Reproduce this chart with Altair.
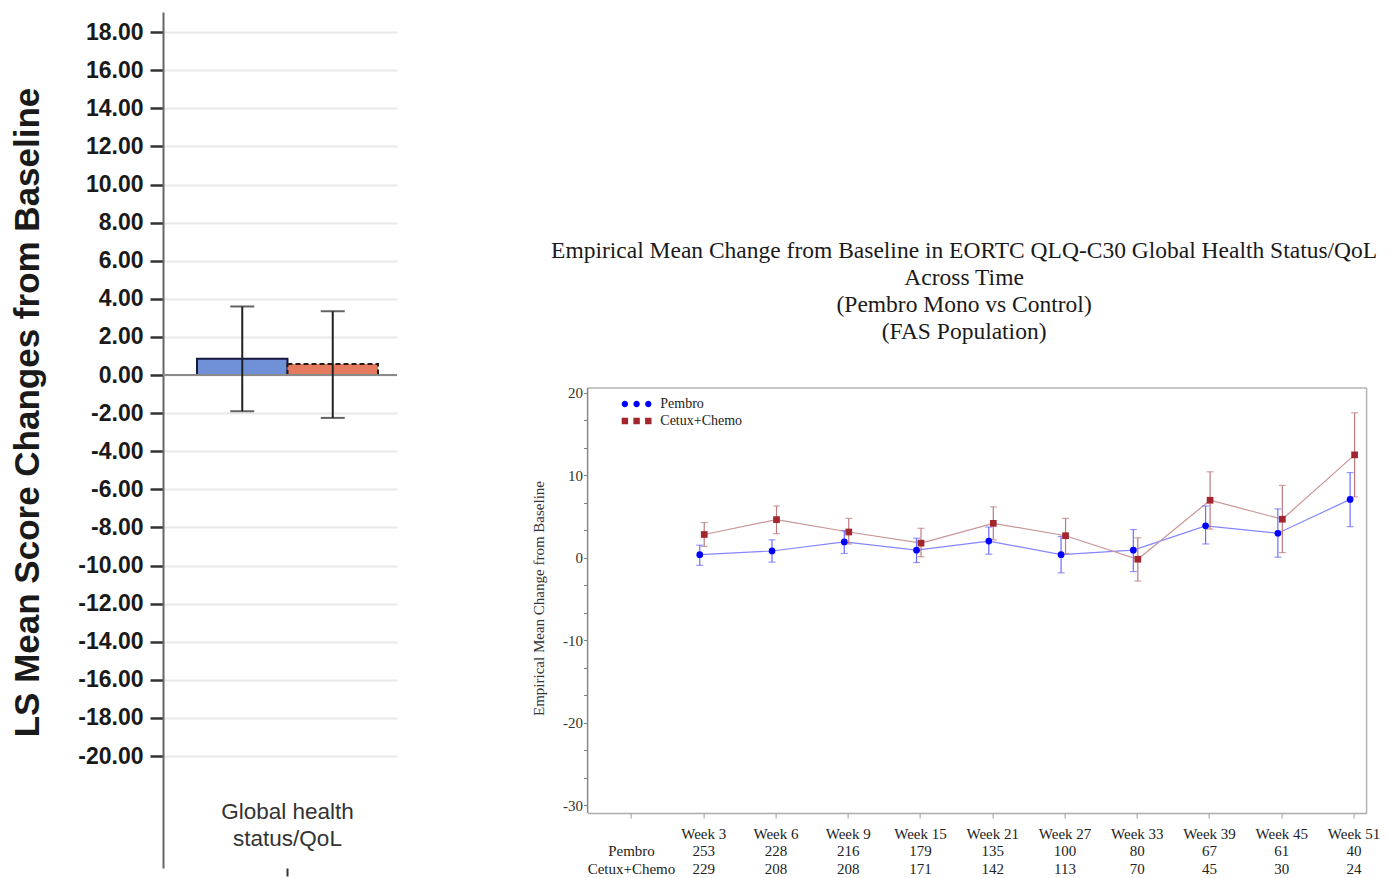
import json
import altair as alt
import pandas as pd

# ---------------- left panel: LS mean change bar chart ----------------
bar_category = "Global health status/QoL"
bar_label_lines = ["Global health", "status/QoL"]
bar_series = ["Pembro", "Cetux+Chemo"]
bar_means = [0.85, 0.58]
bar_lower = [-1.90, -2.25]
bar_upper = [3.60, 3.35]
left_ticks = [-20, -18, -16, -14, -12, -10, -8, -6, -4, -2, 0, 2, 4, 6, 8, 10, 12, 14, 16, 18]

# ---------------- right panel: empirical mean change over time ----------------
title_lines = [
    "Empirical Mean Change from Baseline in EORTC QLQ-C30 Global Health Status/QoL",
    "Across Time",
    "(Pembro Mono vs Control)",
    "(FAS Population)",
]
week_labels = ["Week 3", "Week 6", "Week 9", "Week 15", "Week 21",
               "Week 27", "Week 33", "Week 39", "Week 45", "Week 51"]
week_index = [1, 2, 3, 4, 5, 6, 7, 8, 9, 10]
row_labels = ["Pembro", "Cetux+Chemo"]

pembro_mean = [0.40, 0.85, 1.95, 0.95, 2.05, 0.40, 0.95, 3.90, 3.00, 7.10]
pembro_lo = [-0.90, -0.50, 0.55, -0.55, 0.45, -1.80, -1.65, 1.70, 0.10, 3.80]
pembro_hi = [1.55, 2.20, 3.30, 2.40, 3.75, 2.60, 3.45, 6.30, 5.95, 10.35]
pembro_n = [253, 228, 216, 179, 135, 100, 80, 67, 61, 40]

cetux_mean = [2.85, 4.65, 3.15, 1.80, 4.20, 2.70, -0.15, 7.00, 4.70, 12.50]
cetux_lo = [1.40, 2.95, 1.70, 0.15, 2.20, 0.55, -2.80, 3.50, 0.65, 7.40]
cetux_hi = [4.30, 6.30, 4.80, 3.60, 6.20, 4.80, 2.45, 10.45, 8.80, 17.60]
cetux_n = [229, 208, 208, 171, 142, 113, 70, 45, 30, 24]

# plot frame of the right panel (data units)
frame_x = [-0.6, 10.18]
frame_y = [-30.91, 20.61]

SANS = "Liberation Sans"
SERIF = "Liberation Serif"

# ================= left chart =================
bars_df = pd.DataFrame({
    "cat": [bar_category] * len(bar_series),
    "series": bar_series,
    "mean": bar_means,
    "lo": bar_lower,
    "hi": bar_upper,
})

x_left = alt.X(
    "cat:N",
    scale=alt.Scale(paddingInner=0, paddingOuter=0.1464, align=0.6415),
    axis=alt.Axis(
        title=None, domain=False, ticks=True, tickSize=8, tickWidth=2,
        tickColor="#333333", labelAngle=0,
        labelExpr=json.dumps(bar_label_lines),
        labelFont=SANS, labelFontSize=22.5, labelColor="#333333",
        labelLineHeight=27.5, labelPadding=-76,
    ),
)
xo_left = alt.XOffset("series:N", sort=bar_series,
                      scale=alt.Scale(paddingInner=0, paddingOuter=0))
y_scale_left = alt.Scale(domain=[-25.88, 19.06], nice=False, zero=False)
y_axis_left = alt.Axis(
    values=left_ticks,
    labelExpr="(datum.value < 0 ? '-' : '') + format(abs(datum.value), '.2f')",
    title="LS Mean Score Changes from Baseline",
    titleFont=SANS, titleFontSize=35, titleFontWeight="bold",
    titleColor="#1a1a1a", titleY=400, titlePadding=32,
    labelFont=SANS, labelFontSize=23, labelFontWeight="bold",
    labelColor="#1a1a1a", labelPadding=7, labelOverlap=False,
    tickSize=13, tickWidth=2.5, tickColor="#333333",
    domainColor="#666666", domainWidth=2,
    grid=True, gridColor="#e9e9e9", gridWidth=2,
)
y_left = alt.Y("mean:Q", scale=y_scale_left, axis=y_axis_left)

base_left = alt.Chart(bars_df)
bar_pem = base_left.transform_filter(alt.datum.series == bar_series[0]).mark_bar(
    fill="#7090d8", stroke="#14183f", strokeWidth=2
).encode(x=x_left, xOffset=xo_left, y=y_left, y2=alt.datum(0))
bar_cet = base_left.transform_filter(alt.datum.series == bar_series[1]).mark_bar(
    fill="#e57b5e", stroke="#2a1a1a", strokeWidth=2, strokeDash=[5, 3]
).encode(x=x_left, xOffset=xo_left, y=y_left, y2=alt.datum(0))
zero_line = alt.Chart(bars_df).mark_rule(color="#8a8a8a", strokeWidth=2).encode(
    y=alt.datum(0))
err_rule = base_left.mark_rule(color="#222222", strokeWidth=2).encode(
    x=x_left, xOffset=xo_left,
    y=alt.Y("lo:Q", scale=y_scale_left, axis=y_axis_left), y2="hi:Q")
cap_lo = base_left.mark_tick(orient="horizontal", size=24, thickness=2,
                             color="#222222").encode(
    x=x_left, xOffset=xo_left, y=alt.Y("lo:Q", scale=y_scale_left, axis=y_axis_left))
cap_hi = base_left.mark_tick(orient="horizontal", size=24, thickness=2,
                             color="#222222").encode(
    x=x_left, xOffset=xo_left, y=alt.Y("hi:Q", scale=y_scale_left, axis=y_axis_left))

left = alt.layer(bar_pem, bar_cet, zero_line, err_rule, cap_lo, cap_hi).properties(
    width=234, height=856)

# ================= right chart =================
n = len(week_index)
rows = []
for i in range(n):
    rows.append({"idx": week_index[i], "series": row_labels[0],
                 "mean": pembro_mean[i], "lo": pembro_lo[i], "hi": pembro_hi[i]})
for i in range(n):
    rows.append({"idx": week_index[i], "series": row_labels[1],
                 "mean": cetux_mean[i], "lo": cetux_lo[i], "hi": cetux_hi[i]})
ts_df = pd.DataFrame(rows)

parts = []
for i, w, a, b in zip(week_index, week_labels, pembro_n, cetux_n):
    parts.append(f"datum.value == {i} ? ['{w}', '{a}', '{b}']")
x_label_expr = " : ".join(parts) + f" : ['', '{row_labels[0]}', '{row_labels[1]}']"

x_scale_r = alt.Scale(domain=frame_x, nice=False, zero=False)
x_axis_r = alt.Axis(
    title=None, values=list(range(0, 11)), grid=False,
    labelExpr=x_label_expr, labelFont=SERIF, labelFontSize=15,
    labelColor="#222222", labelLineHeight=17.5, labelPadding=8,
    labelFlush=False, labelOverlap=False, labelBound=False,
    tickSize=5, tickColor="#999999", domainColor="#aaaaaa", domainWidth=1.5,
)
x_right = alt.X("xpos:Q", scale=x_scale_r, axis=x_axis_r)

# the panel is drawn tall so that the title block sits inside it, above the frame
y_ticks_r = [round(-30 + k * 10 / 3, 4) for k in range(16)]
y_scale_r = alt.Scale(domain=[frame_y[0], 66.18], nice=False, zero=False)
y_axis_r = alt.Axis(
    title="Empirical Mean Change from Baseline", values=y_ticks_r,
    labelExpr="abs(datum.value - round(datum.value / 10) * 10) < 0.01 ? '' + round(datum.value) : ''",
    grid=False, domain=False, labelFont=SERIF, labelFontSize=15, labelColor="#333333",
    labelPadding=1, tickSize=4, tickColor="#777777", labelOverlap=False,
    titleFont=SERIF, titleFontSize=15, titleFontWeight="normal",
    titleColor="#333333", titlePadding=16, titleY=586,
)
y_right = alt.Y("mean:Q", scale=y_scale_r, axis=y_axis_r)

dodge_expr = f"datum.idx + (datum.series == '{row_labels[0]}' ? -0.048 : 0.014)"
base_r = alt.Chart(ts_df).transform_calculate(xpos=dodge_expr)

one = alt.Chart(pd.DataFrame({"k": [0]}))
frame_top = one.mark_rule(color="#b3b3b3", strokeWidth=1.5).encode(
    x=alt.X(datum=frame_x[0], scale=x_scale_r, axis=x_axis_r), x2=alt.datum(frame_x[1]),
    y=alt.Y(datum=frame_y[1], scale=y_scale_r, axis=y_axis_r))
frame_right = one.mark_rule(color="#b3b3b3", strokeWidth=1.5).encode(
    x=alt.X(datum=frame_x[1], scale=x_scale_r, axis=x_axis_r),
    y=alt.Y(datum=frame_y[0], scale=y_scale_r, axis=y_axis_r), y2=alt.datum(frame_y[1]))
frame_left = one.mark_rule(color="#888888", strokeWidth=1.5).encode(
    x=alt.X(datum=frame_x[0], scale=x_scale_r, axis=x_axis_r),
    y=alt.Y(datum=frame_y[0], scale=y_scale_r, axis=y_axis_r), y2=alt.datum(frame_y[1]))

circle_trio = ("M-7.45,0 a1.6,1.6 0 1,0 3.2,0 a1.6,1.6 0 1,0 -3.2,0 "
               "M-1.6,0 a1.6,1.6 0 1,0 3.2,0 a1.6,1.6 0 1,0 -3.2,0 "
               "M4.25,0 a1.6,1.6 0 1,0 3.2,0 a1.6,1.6 0 1,0 -3.2,0")
square_trio = ("M-7.45,-1.6 h3.2 v3.2 h-3.2 z "
               "M-1.6,-1.6 h3.2 v3.2 h-3.2 z "
               "M4.25,-1.6 h3.2 v3.2 h-3.2 z")

series_style = [
    # name, marker colour, line colour, error colour, shape, size, legend path, legendY
    (row_labels[0], "#0000ff", "#8585ff", "#6b6bff", "circle", 45, circle_trio, 385),
    (row_labels[1], "#a3262f", "#c99597", "#bd7b7e", "square", 45, square_trio, 402),
]

layers = [frame_top, frame_right, frame_left]
for name, mcol, lcol, ecol, shape, size, path, ly in series_style:
    b = base_r.transform_filter(alt.datum.series == name)
    layers.append(b.mark_line(color=lcol, strokeWidth=1.2).encode(x=x_right, y=y_right))
for name, mcol, lcol, ecol, shape, size, path, ly in series_style:
    b = base_r.transform_filter(alt.datum.series == name)
    layers.append(b.mark_rule(color=ecol, strokeWidth=1.2).encode(
        x=x_right, y=alt.Y("lo:Q", scale=y_scale_r, axis=y_axis_r), y2="hi:Q"))
    layers.append(b.mark_tick(orient="horizontal", size=7, thickness=1.2, color=ecol).encode(
        x=x_right, y=alt.Y("lo:Q", scale=y_scale_r, axis=y_axis_r)))
    layers.append(b.mark_tick(orient="horizontal", size=7, thickness=1.2, color=ecol).encode(
        x=x_right, y=alt.Y("hi:Q", scale=y_scale_r, axis=y_axis_r)))
for name, mcol, lcol, ecol, shape, size, path, ly in series_style:
    b = base_r.transform_filter(alt.datum.series == name)
    layers.append(b.mark_point(shape=shape, filled=True, size=size, opacity=1).encode(
        x=x_right, y=y_right,
        color=alt.Color("series:N",
                        scale=alt.Scale(domain=[name], range=[mcol]),
                        legend=alt.Legend(
                            orient="none", legendX=42, legendY=ly, title=None,
                            symbolType=path, symbolSize=16, symbolStrokeWidth=0,
                            symbolOpacity=1, labelFont=SERIF, labelFontSize=14,
                            labelColor="#222222", labelOffset=16.7, padding=0,
                        )),
    ))

right = alt.layer(*layers).resolve_scale(color="independent").properties(
    width=779, height=801,
    title=alt.TitleParams(
        text=title_lines, font=SERIF, fontSize=23.5, fontWeight="normal",
        lineHeight=27, color="#1a1a1a", frame="group", anchor="middle",
        offset=-331.5, dx=-13,
    ),
)

chart = alt.hconcat(left, right, spacing=133.6).properties(
    padding={"left": 2, "top": 4, "right": 0, "bottom": 0},
    background="white",
).configure_view(strokeWidth=0).configure_axis(labelOverlap=False)

chart.save("out.html", embed_options={"renderer": "svg", "actions": False})
